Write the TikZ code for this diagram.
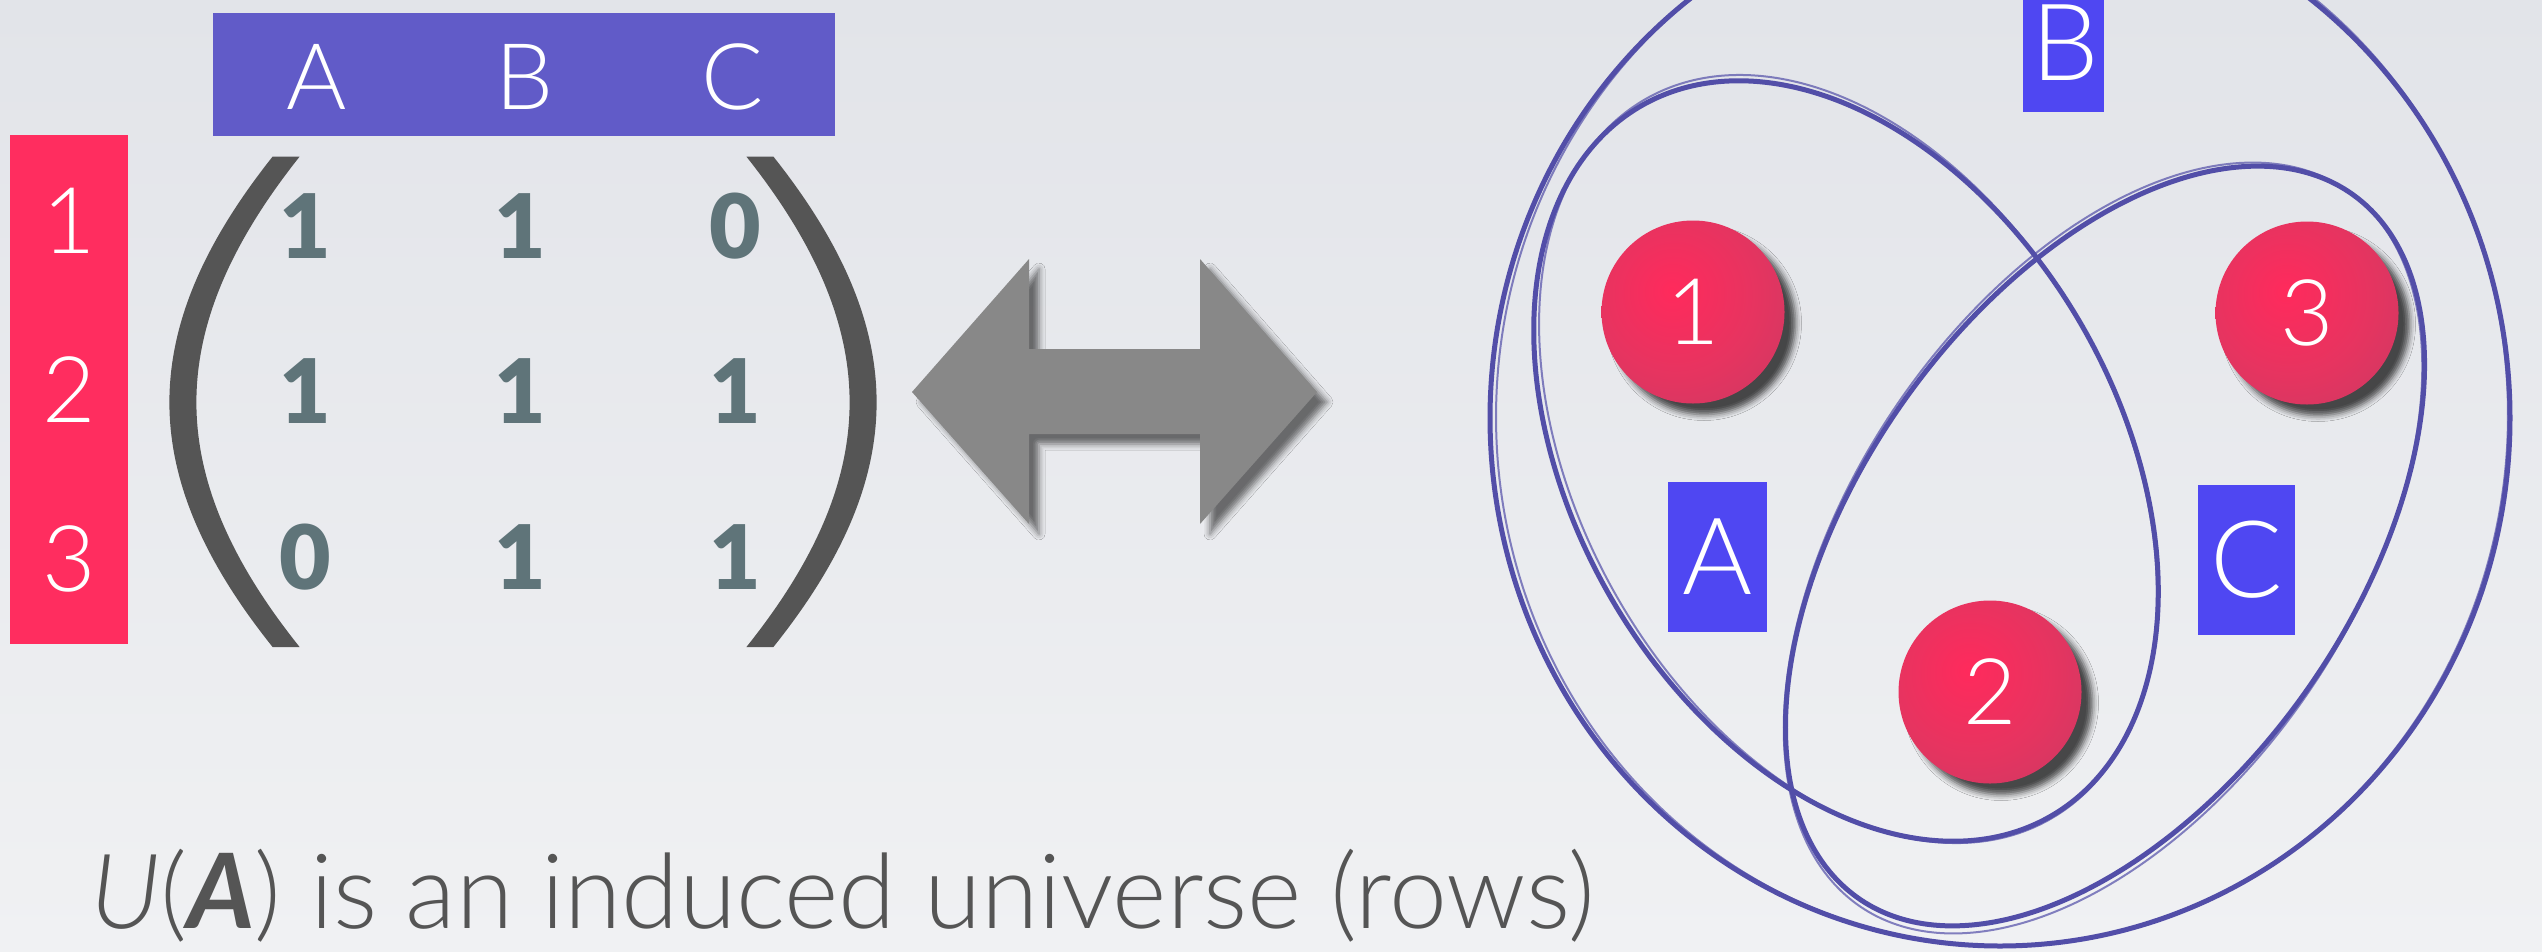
\documentclass[tikz,border=0pt]{standalone}
\usepackage{fontspec}
\usetikzlibrary{shadows.blur}
\IfFontExistsTF{Lato Light}{\newfontfamily\lightf{Lato Light}}{\newfontfamily\lightf{Lato}}
\IfFontExistsTF{Lato Light Italic}{\newfontfamily\lightit{Lato Light Italic}}{\newfontfamily\lightit{Lato}[FakeSlant=0.2]}
\IfFontExistsTF{Lato Bold Italic}{\newfontfamily\boldit{Lato Bold Italic}}{\newfontfamily\boldit{Lato}[FakeSlant=0.2,FakeBold=2]}
\IfFontExistsTF{Lato Black}{\newfontfamily\blackf{Lato Black}}{\newfontfamily\blackf{Lato}[FakeBold=1.5]}
\definecolor{bgtop}{RGB}{226,228,233}
\definecolor{bgbot}{RGB}{240,241,243}
\definecolor{hdrblue}{RGB}{97,91,200}
\definecolor{lblblue}{RGB}{79,71,242}
\definecolor{rowred}{RGB}{255,45,95}
\definecolor{entrycol}{RGB}{95,116,121}
\definecolor{parcol}{RGB}{85,85,85}
\definecolor{arrowgray}{RGB}{136,136,136}
\definecolor{venncol}{RGB}{82,78,168}
\definecolor{pkA}{RGB}{255,42,92}
\definecolor{pkB}{RGB}{230,52,96}
\definecolor{pkC}{RGB}{190,60,100}
\definecolor{txtgray}{RGB}{85,85,85}
\pgfdeclareradialshading{ballsh}{\pgfpoint{-6bp}{6bp}}{color(0bp)=(pkA); color(22bp)=(pkB); color(50bp)=(pkC); color(100bp)=(pkC)}
\newcommand\vennellipse[6]{\draw[#6] plot[domain=0:360,samples=181,variable=\t,smooth] ({#1+#3*cos(\t)*cos(#5)-#4*sin(\t)*sin(#5)},{#2+#3*cos(\t)*sin(#5)+#4*sin(\t)*cos(#5)}) -- cycle;}
\begin{document}
\begin{tikzpicture}[x=1pt,y=-1pt,
  lbl/.style={text=white, anchor=base, inner sep=0, font=\lightf\fontsize{92}{92}\selectfont},
  entry/.style={text=entrycol, anchor=base, inner sep=0, font=\blackf\fontsize{89}{89}\selectfont},
  vbox/.style={fill=lblblue, text=white, inner sep=0, minimum height=150, font=\lightf\fontsize{107}{107}\selectfont},
  vtext/.style={text=white, inner sep=0, anchor=base, font=\lightf\fontsize{107}{107}\selectfont},
  ball/.style={circle, minimum size=183, inner sep=0, shading=ballsh, text=white,
     font=\lightf\fontsize{92}{92}\selectfont,
     blur shadow={shadow xshift=11pt, shadow yshift=-11pt, shadow blur radius=6pt, shadow opacity=70}},
  vmain/.style={draw=venncol, line width=5, line cap=round, line join=round},
  vthin/.style={draw=venncol, line width=2, opacity=.7},
  caption/.style={text=txtgray, anchor=base west, inner sep=0, font=\lightf\fontsize{104}{104}\selectfont}]
\useasboundingbox (0,0) rectangle (2542,951);
\shade[top color=bgtop, bottom color=bgbot] (0,0) rectangle (2542,951);

% header and row labels
\node[fill=hdrblue, anchor=north west, minimum width=622, minimum height=123, inner sep=0] (hdr) at (213,13) {};
\node[lbl] (hA) at (317,109) {A};
\node[lbl] (hB) at (525,109) {B};
\node[lbl] (hC) at (733,109) {C};
\node[fill=rowred, anchor=north west, minimum width=118, minimum height=509, inner sep=0] (rowbox) at (10,135) {};
\node[lbl] (r1) at (69,253) {1};
\node[lbl] (r2) at (69,422) {2};
\node[lbl] (r3) at (69,591) {3};

% parentheses
\fill[parcol] (272.6,156.6) .. controls (135,330) and (135,475) .. (272.6,647) -- (299.6,647) .. controls (162,475) and (162,330) .. (299.6,156.6) -- cycle;
\fill[parcol] (773.4,156.6) .. controls (911,330) and (911,475) .. (773.4,647) -- (746.4,647) .. controls (884,475) and (884,330) .. (746.4,156.6) -- cycle;

% matrix entries
\node[entry] (m11) at (305,258) {1};
\node[entry] (m12) at (520,258) {1};
\node[entry] (m13) at (735,258) {0};
\node[entry] (m21) at (305,423.5) {1};
\node[entry] (m22) at (520,423.5) {1};
\node[entry] (m23) at (735,423.5) {1};
\node[entry] (m31) at (305,589) {0};
\node[entry] (m32) at (520,589) {1};
\node[entry] (m33) at (735,589) {1};

% double arrow
\fill[arrowgray, blur shadow={shadow xshift=10pt, shadow yshift=-10pt, shadow blur radius=6pt, shadow opacity=55}]
  (912,392) -- (1029,259) -- (1029,349) -- (1200,349) -- (1200,259) -- (1317,392)
  -- (1200,524) -- (1200,434) -- (1029,434) -- (1029,524) -- cycle;

% Venn sets
\vennellipse{2000}{418}{510}{528}{0}{vmain}
\vennellipse{2002}{416}{506}{530}{1.2}{vthin}
\vennellipse{1846}{461}{410}{272}{60}{vmain}
\vennellipse{1848}{459}{413}{269}{61}{vthin}
\vennellipse{2105}{546}{430}{248}{-55}{vmain}
\vennellipse{2103}{548}{433}{251}{-56}{vthin}

% elements
\node[ball] (b1) at (1693,312) {1};
\node[ball] (b3) at (2307,313) {3};
\node[ball] (b2) at (1990,692) {2};

% set labels
\node[vbox, minimum width=99] (vA) at (1717.5,557) {A};
\fill[lblblue] (2023,-5) rectangle (2104,112);
\node[vtext] (vB) at (2065,80) {B};
\node[vbox, minimum width=97] (vC) at (2246.5,560) {C};

% caption
\node[caption] (cap) at (90,928) {{\lightit U}({\boldit A}) is an induced universe (rows)};
\end{tikzpicture}
\end{document}
